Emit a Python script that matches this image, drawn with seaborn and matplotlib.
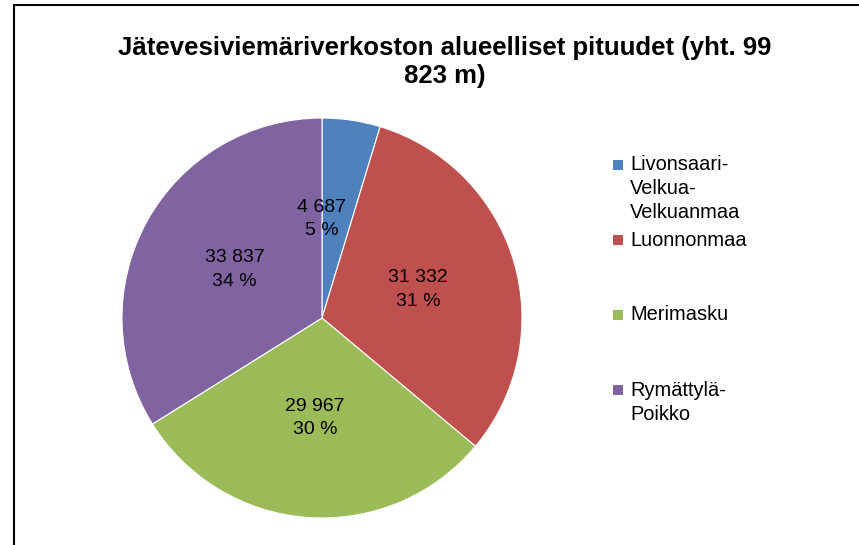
import matplotlib
matplotlib.use("Agg")
import matplotlib.pyplot as plt
from matplotlib.patches import Rectangle
import seaborn as sns

# data
areas = ["Livonsaari-Velkua-Velkuanmaa", "Luonnonmaa", "Merimasku", "Rymättylä-Poikko"]
lengths_m = [4687, 31332, 29967, 33837]
colors = ["#4F81BD", "#C0504D", "#9BBB59", "#8064A2"]
title = "Jätevesiviemäriverkoston alueelliset pituudet (yht. 99\n823 m)"

sns.set_theme(style="white")
plt.rcParams["font.family"] = ["Liberation Sans", "DejaVu Sans"]

W, H = 859, 545
fig = plt.figure(figsize=(W / 100, H / 100), dpi=100)

total = sum(lengths_m)


def fmt(pct):
    v = int(round(pct * total / 100))
    return f"{v:,}".replace(",", " ") + f"\n{pct:.0f} %"


# pie area in pixels: centre (322, 318), radius 200
cx, cy, r = 322, 318, 200
ax = fig.add_axes([(cx - r) / W, (H - cy - r) / H, 2 * r / W, 2 * r / H])
wedges, texts, autotexts = ax.pie(
    lengths_m,
    colors=colors,
    startangle=90,
    counterclock=False,
    autopct=fmt,
    pctdistance=0.5,
    wedgeprops=dict(edgecolor="white", linewidth=0.8),
    textprops=dict(fontsize=14, color="black", linespacing=1.5),
)
ax.set_xlim(-1, 1)
ax.set_ylim(-1, 1)
# Excel pushes the small slice's label towards the centre line
x0, y0 = autotexts[0].get_position()
autotexts[0].set_position((x0 - 0.075, y0))

fig.text(445 / W, 1 - 62 / H, title, ha="center", va="center",
         fontsize=18.5, fontweight="bold", linespacing=1.2, color="black")

# legend, drawn by hand so the key sits on the first line of each label
for i, (name, col) in enumerate(zip(areas, colors)):
    ytop = 165 + 75 * i
    fig.patches.append(Rectangle((613 / W, 1 - (ytop + 5) / H), 10 / W, 10 / H,
                                 transform=fig.transFigure, facecolor=col,
                                 edgecolor="none"))
    for j, line in enumerate(name.replace("-", "-\n").split("\n")):
        fig.text(630 / W, 1 - (ytop + 24 * j) / H, line, ha="left",
                 va="center", fontsize=14.4, color="black")

# chart frame (runs off the right and bottom edges)
fig.patches.append(Rectangle((13.5 / W, -0.05), 1.2, 1.05 - 5.5 / H,
                             transform=fig.transFigure, fill=False,
                             edgecolor="black", linewidth=1.5))

fig.savefig("out.png", dpi=100)
